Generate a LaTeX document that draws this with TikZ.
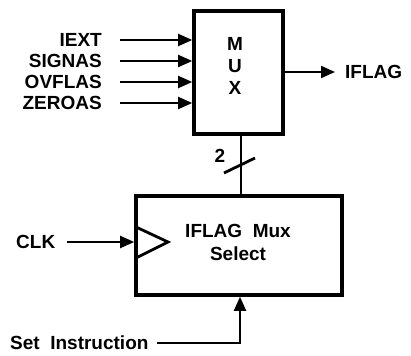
\documentclass[tikz,border=0pt]{standalone}
\usepackage{fontspec}
\setmainfont{Liberation Sans}
\usetikzlibrary{arrows.meta}
\begin{document}
\begin{tikzpicture}[x=1pt,y=-1pt,
  lbl/.style={font=\fontsize{19}{21}\selectfont\bfseries, inner sep=0pt},
  blk/.style={draw, line width=3.6pt, inner sep=0pt},
  wire/.style={line width=2pt},
  arr/.style={wire, -{Triangle[length=14pt,width=12pt]}}]
\useasboundingbox (0,0) rectangle (411,355);
% boxes
\node[blk, minimum width=89pt, minimum height=123pt] (mux) at (238.5,72.5) {};
\node[blk, minimum width=206pt, minimum height=99pt] (sel) at (239,245.5) {};
% MUX letters
\node[lbl] (m) at (235,44) {M};
\node[lbl] (u) at (235,66) {U};
\node[lbl] (x) at (235,88) {X};
% inputs
\node[lbl, anchor=east] (iext) at (102,40) {IEXT};
\node[lbl, anchor=east] (signas) at (102,61) {SIGNAS};
\node[lbl, anchor=east] (ovflas) at (102,82) {OVFLAS};
\node[lbl, anchor=east] (zeroas) at (102,103) {ZEROAS};
\coordinate (s1) at (120,40);
\coordinate (s2) at (120,61);
\coordinate (s3) at (120,82);
\coordinate (s4) at (120,103);
\draw[arr] (s1) -- (s1 -| mux.west);
\draw[arr] (s2) -- (s2 -| mux.west);
\draw[arr] (s3) -- (s3 -| mux.west);
\draw[arr] (s4) -- (s4 -| mux.west);
% output
\node[lbl, anchor=west] (iflag) at (345,72) {IFLAG};
\coordinate (oend) at (335,72);
\draw[arr] (mux.east |- oend) -- (oend);
% bus
\coordinate (bt) at (241,134);
\draw[wire] (bt) -- (bt |- sel.north);
\coordinate (sl1) at (224,173);
\coordinate (sl2) at (255,158);
\draw[line width=2.8pt] (sl1) -- (sl2);
\node[lbl] (two) at (220,156) {2};
% select text
\node[lbl, align=center] (seltxt) at (238,242) {IFLAG\ \ Mux\\[2pt]Select};
% clock
\node[lbl, anchor=west] (clk) at (16,242) {CLK};
\coordinate (cs) at (67,242);
\draw[arr] (cs) -- (cs -| sel.west);
\coordinate (t1) at (136,227);
\coordinate (t2) at (168,242);
\coordinate (t3) at (136,258);
\draw[line width=2.8pt, line join=miter] (t1) -- (t2) -- (t3);
% set instruction
\node[lbl, anchor=west] (setin) at (10,343) {Set\ \ Instruction};
\coordinate (sc) at (240,343);
\coordinate (ss) at (157,343);
\draw[arr] (ss) -- (sc) -- (sc |- sel.south);
\end{tikzpicture}
\end{document}
